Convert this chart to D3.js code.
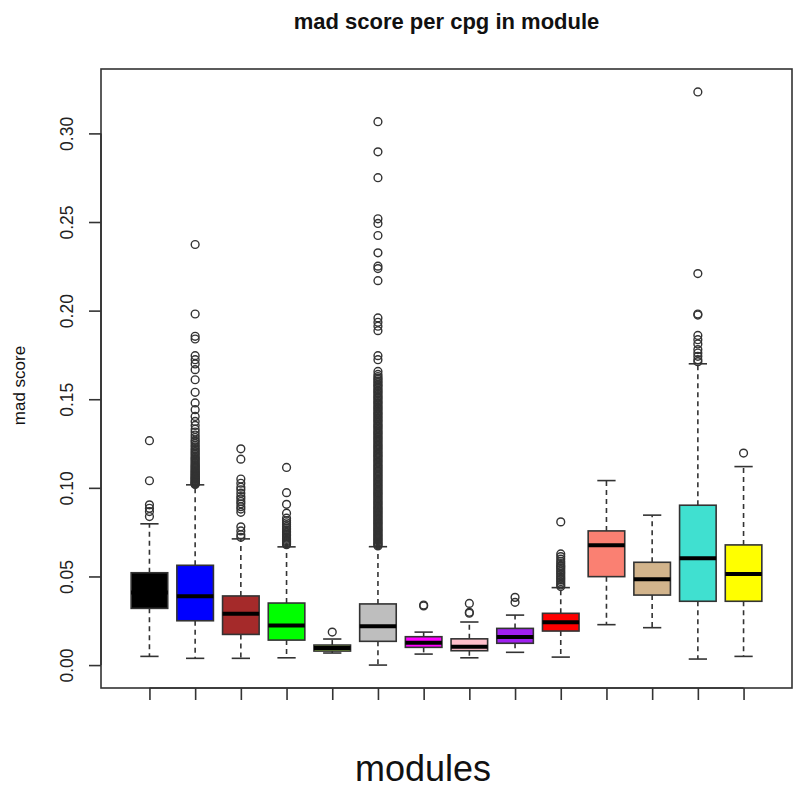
<!DOCTYPE html>
<html>
<head>
<meta charset="utf-8">
<script src="https://cdn.jsdelivr.net/npm/d3@7"></script>
<style>
  html, body { margin: 0; padding: 0; background: #fff; }
  svg { display: block; font-family: "Liberation Sans", Arial, Helvetica, sans-serif; }
</style>
</head>
<body>
<svg id="chart" width="793" height="791"></svg>
<script>
// Module names (WGCNA colours, alphabetical) and their fill colours
const modules = ["black", "blue", "brown", "green", "greenyellow", "grey", "magenta",
                 "pink", "purple", "red", "salmon", "tan", "turquoise", "yellow"];
const fills = ["#000000", "#0000FF", "#A52A2A", "#00FF00", "#ADFF2F", "#BEBEBE", "#FF00FF",
               "#FFC0CB", "#A020F0", "#FF0000", "#FA8072", "#D2B48C", "#40E0D0", "#FFFF00"];

// Five-number summaries per module (lower whisker, Q1, median, Q3, upper whisker)
const whiskerLow  = [0.0049, 0.0038, 0.0038, 0.0041, 0.0068, 0.0000, 0.0062, 0.0041, 0.0072, 0.0045, 0.0228, 0.0211, 0.0034, 0.0049];
const q1          = [0.0320, 0.0250, 0.0173, 0.0141, 0.0079, 0.0134, 0.0100, 0.0081, 0.0123, 0.0192, 0.0499, 0.0395, 0.0360, 0.0360];
const medians     = [0.0410, 0.0388, 0.0290, 0.0224, 0.0096, 0.0219, 0.0126, 0.0103, 0.0158, 0.0241, 0.0676, 0.0484, 0.0603, 0.0514];
const q3          = [0.0521, 0.0563, 0.0390, 0.0350, 0.0113, 0.0345, 0.0160, 0.0148, 0.0207, 0.0292, 0.0757, 0.0580, 0.0902, 0.0678];
const whiskerHigh = [0.0797, 0.1017, 0.0712, 0.0667, 0.0147, 0.0668, 0.0186, 0.0243, 0.0282, 0.0437, 0.1041, 0.0846, 0.1700, 0.1120];

// Outlying cpg mad scores per module
const outBlack = [0.1266, 0.1040, 0.0904, 0.0885, 0.0866, 0.0838];
const outBlue = [0.2373, 0.1981, 0.1855, 0.1840, 0.1746, 0.1723, 0.1699, 0.1667, 0.1610, 0.1539,
  0.1479, 0.1441, 0.1403, 0.1375, 0.1352, 0.1331, 0.1315, 0.1298, 0.1284, 0.1270, 0.1262, 0.1251,
  0.1240, 0.1232, 0.1221, 0.1213, 0.1204, 0.1196, 0.1188, 0.1180, 0.1171, 0.1165, 0.1158, 0.1151,
  0.1144, 0.1138, 0.1131, 0.1125, 0.1119, 0.1113, 0.1108, 0.1102, 0.1097, 0.1092, 0.1087, 0.1082,
  0.1077, 0.1072, 0.1068, 0.1063, 0.1059, 0.1055, 0.1051, 0.1047, 0.1043, 0.1039, 0.1035, 0.1031,
  0.1028, 0.1025, 0.1022, 0.1019];
const outBrown = [0.1220, 0.1162, 0.1050, 0.1026, 0.1004, 0.0989, 0.0970, 0.0951, 0.0938, 0.0923,
  0.0910, 0.0894, 0.0880, 0.0862, 0.0780, 0.0757, 0.0736, 0.0721];
const outGreen = [0.1115, 0.0973, 0.0907, 0.0857, 0.0829, 0.0815, 0.0803, 0.0792, 0.0781, 0.0772,
  0.0763, 0.0755, 0.0746, 0.0738, 0.0731, 0.0723, 0.0716, 0.0709, 0.0702, 0.0696, 0.0690, 0.0684, 0.0679];
const outGreenyellow = [0.0186];
const outGrey = [0.3066, 0.2896, 0.2750, 0.2518, 0.2492, 0.2424, 0.2326, 0.2251, 0.2237, 0.2169,
  0.1959, 0.1934, 0.1912, 0.1887, 0.1746, 0.1723, 0.1657,
  0.1640, 0.1628, 0.1619, 0.1611, 0.1602, 0.1594, 0.1585, 0.1577, 0.1570, 0.1561, 0.1552, 0.1545,
  0.1537, 0.1529, 0.1520, 0.1512, 0.1505, 0.1497, 0.1489, 0.1481, 0.1474, 0.1466, 0.1458, 0.1450,
  0.1443, 0.1435, 0.1427, 0.1420, 0.1412, 0.1404, 0.1397, 0.1389, 0.1381, 0.1374, 0.1366, 0.1358,
  0.1351, 0.1343, 0.1336, 0.1328, 0.1320, 0.1313, 0.1305, 0.1298, 0.1290, 0.1283, 0.1275, 0.1268,
  0.1260, 0.1253, 0.1245, 0.1238, 0.1231, 0.1223, 0.1216, 0.1208, 0.1201, 0.1194, 0.1186, 0.1179,
  0.1172, 0.1164, 0.1157, 0.1150, 0.1143, 0.1135, 0.1128, 0.1121, 0.1114, 0.1107, 0.1099, 0.1092,
  0.1085, 0.1078, 0.1071, 0.1064, 0.1057, 0.1050, 0.1043, 0.1036, 0.1029, 0.1022, 0.1015, 0.1008,
  0.1001, 0.0994, 0.0987, 0.0980, 0.0973, 0.0966, 0.0959, 0.0952, 0.0945, 0.0939, 0.0932, 0.0925,
  0.0918, 0.0911, 0.0905, 0.0898, 0.0891, 0.0885, 0.0878, 0.0871, 0.0865, 0.0858, 0.0852, 0.0845,
  0.0839, 0.0832, 0.0826, 0.0819, 0.0813, 0.0806, 0.0800, 0.0794, 0.0787, 0.0781, 0.0775, 0.0768,
  0.0762, 0.0756, 0.0750, 0.0744, 0.0737, 0.0731, 0.0725, 0.0719, 0.0713, 0.0707, 0.0701, 0.0695,
  0.0689, 0.0683, 0.0677, 0.0672];
const outMagenta = [0.0339, 0.0334];
const outPink = [0.0348, 0.0298, 0.0293];
const outPurple = [0.0382, 0.0354];
const outRed = [0.0808, 0.0627, 0.0612, 0.0598, 0.0585, 0.0573, 0.0562, 0.0555, 0.0546, 0.0537,
  0.0527, 0.0518, 0.0508, 0.0499, 0.0490, 0.0481, 0.0471, 0.0462, 0.0452, 0.0443];
const outSalmon = [];
const outTan = [];
const outTurquoise = [0.3234, 0.2209, 0.1981, 0.1975, 0.1860, 0.1836, 0.1812, 0.1780, 0.1761,
  0.1742, 0.1723, 0.1712];
const outYellow = [0.1196];
const outliers = [outBlack, outBlue, outBrown, outGreen, outGreenyellow, outGrey, outMagenta,
  outPink, outPurple, outRed, outSalmon, outTan, outTurquoise, outYellow];

const yTicks = [0.00, 0.05, 0.10, 0.15, 0.20, 0.25, 0.30];

const titleText = "mad score per cpg in module";
const yLabel = "mad score";
const xLabel = "modules";

// ---- layout ----
const plot = { left: 101, right: 792, top: 69, bottom: 688 };
const ink = "#333";

const svg = d3.select("#chart");

// value axis spans the data range plus 4% padding at both ends
const yMin = 0.0, yMax = 0.3234, pad = (yMax - yMin) * 0.04;
const y = d3.scaleLinear().domain([yMin - pad, yMax + pad]).range([plot.bottom, plot.top]);

// box positions 1..n with half-unit margins plus 4% padding
const n = modules.length;
const xr = (n + 0.5) - 0.5;
const x = d3.scaleLinear()
  .domain([0.5 - xr * 0.04, n + 0.5 + xr * 0.04])
  .range([plot.left, plot.right]);

const boxHalf = 0.4, stapleHalf = 0.2;

const data = modules.map((m, i) => ({
  name: m, fill: fills[i], pos: i + 1,
  lo: whiskerLow[i], q1: q1[i], med: medians[i], q3: q3[i], hi: whiskerHigh[i],
  out: outliers[i]
}));

const g = svg.append("g");

const boxes = g.selectAll("g.box").data(data).join("g").attr("class", "box");

// dashed whiskers
boxes.append("line")
  .attr("x1", d => x(d.pos)).attr("x2", d => x(d.pos))
  .attr("y1", d => y(d.q3)).attr("y2", d => y(d.hi))
  .attr("stroke", ink).attr("stroke-width", 1.6).attr("stroke-dasharray", "5,4");
boxes.append("line")
  .attr("x1", d => x(d.pos)).attr("x2", d => x(d.pos))
  .attr("y1", d => y(d.q1)).attr("y2", d => y(d.lo))
  .attr("stroke", ink).attr("stroke-width", 1.6).attr("stroke-dasharray", "5,4");

// staples
["hi", "lo"].forEach(k => {
  boxes.append("line")
    .attr("x1", d => x(d.pos - stapleHalf)).attr("x2", d => x(d.pos + stapleHalf))
    .attr("y1", d => y(d[k])).attr("y2", d => y(d[k]))
    .attr("stroke", ink).attr("stroke-width", 1.6);
});

// boxes
boxes.append("rect")
  .attr("x", d => x(d.pos - boxHalf))
  .attr("width", d => x(d.pos + boxHalf) - x(d.pos - boxHalf))
  .attr("y", d => y(d.q3))
  .attr("height", d => y(d.q1) - y(d.q3))
  .attr("fill", d => d.fill)
  .attr("stroke", ink).attr("stroke-width", 1.6);

// medians
boxes.append("line")
  .attr("x1", d => x(d.pos - boxHalf)).attr("x2", d => x(d.pos + boxHalf))
  .attr("y1", d => y(d.med)).attr("y2", d => y(d.med))
  .attr("stroke", "#000").attr("stroke-width", 4);

// outliers as open circles
boxes.each(function(d) {
  d3.select(this).selectAll("circle").data(d.out).join("circle")
    .attr("cx", x(d.pos)).attr("cy", v => y(v)).attr("r", 3.9)
    .attr("fill", "none").attr("stroke", ink).attr("stroke-width", 1.4);
});

// frame
svg.append("rect")
  .attr("x", plot.left).attr("y", plot.top)
  .attr("width", plot.right - plot.left).attr("height", plot.bottom - plot.top)
  .attr("fill", "none").attr("stroke", ink).attr("stroke-width", 1.6);

// y axis (labels rotated, parallel to the axis)
const yAxis = d3.axisLeft(y).tickValues(yTicks).tickFormat(d3.format(".2f"))
  .tickSize(12).tickPadding(0);
const ya = svg.append("g").attr("transform", `translate(${plot.left},0)`).call(yAxis);
ya.select(".domain")
  .attr("d", `M0,${y(yTicks[0])}V${y(yTicks[yTicks.length - 1])}`)
  .attr("stroke", ink).attr("stroke-width", 1.6);
ya.selectAll(".tick line").attr("stroke", ink).attr("stroke-width", 1.6);
ya.selectAll(".tick text")
  .attr("x", null).attr("dy", null)
  .attr("transform", "translate(-28,0) rotate(-90)")
  .attr("text-anchor", "middle")
  .attr("dominant-baseline", "auto")
  .attr("font-size", 17.5).attr("fill", "#222")
  .style("font-family", "'Liberation Sans', Arial, sans-serif");

// x axis: ticks only, no labels
const xAxis = d3.axisBottom(x).tickValues(data.map(d => d.pos)).tickFormat("").tickSize(12);
const xa = svg.append("g").attr("transform", `translate(0,${plot.bottom})`).call(xAxis);
xa.select(".domain")
  .attr("d", `M${x(1)},0H${x(n)}`)
  .attr("stroke", ink).attr("stroke-width", 1.6);
xa.selectAll(".tick line").attr("stroke", ink).attr("stroke-width", 1.6);

// titles
svg.append("text")
  .attr("x", (plot.left + plot.right) / 2).attr("y", 29)
  .attr("text-anchor", "middle").attr("font-weight", "bold").attr("font-size", 22)
  .attr("fill", "#111").text(titleText);

svg.append("text")
  .attr("transform", `translate(25,${(plot.top + plot.bottom) / 2 + 7}) rotate(-90)`)
  .attr("text-anchor", "middle").attr("font-size", 17).attr("fill", "#111")
  .text(yLabel);

svg.append("text")
  .attr("x", 423).attr("y", 781)
  .attr("text-anchor", "middle").attr("font-size", 36).attr("fill", "#111")
  .text(xLabel);
</script>
</body>
</html>
